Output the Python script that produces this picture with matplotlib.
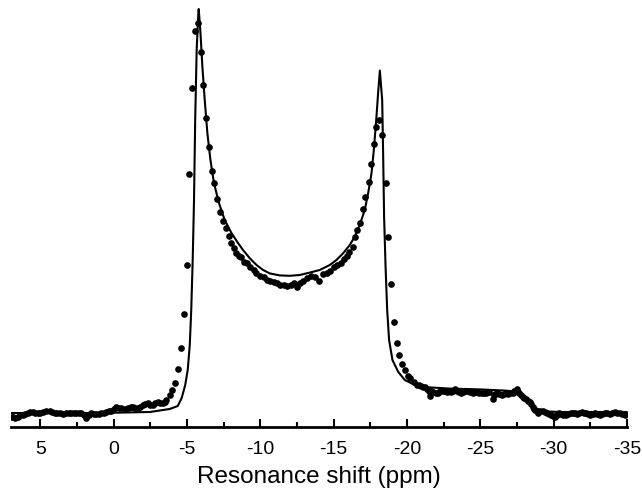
import matplotlib
matplotlib.use("Agg")
import matplotlib.pyplot as plt
from matplotlib.ticker import MultipleLocator

plt.rcParams['font.family'] = ['Liberation Sans', 'DejaVu Sans']
plt.rcParams['axes.unicode_minus'] = False

# measured spectrum (dots): shift in ppm, intensity in arbitrary units
# left baseline
shift_base_l = [6.95, 6.87, 6.70, 6.53, 6.36, 6.19, 6.02, 5.85, 5.68, 5.51, 5.33, 5.16,
                4.99, 4.82, 4.60, 4.37, 4.20, 4.03, 3.85, 3.68, 3.45, 3.23, 3.06, 2.89,
                2.71, 2.54, 2.37, 2.20, 2.03, 1.86, 1.69, 1.52, 1.35, 1.18, 1.01, 0.84,
                0.67, 0.50, 0.33, 0.16, -0.01, -0.18, -0.35, -0.53, -0.75, -0.98, -1.15,
                -1.32, -1.49, -1.66, -1.83, -2.00, -2.17, -2.34, -2.51, -2.68, -2.85,
                -3.02, -3.19, -3.36, -3.48]
int_base_l = [-1.0, -1.1, -1.3, -0.9, -0.6, -0.5, -0.3, -0.1, 0.2, 0.3, 0.0, -0.1,
              0.0, 0.2, 0.4, 0.6, 0.3, 0.1, 0.0, 0.1, -0.2, -0.1, 0.0, 0.1,
              0.0, -0.1, 0.0, -0.1, -0.6, -1.3, -0.5, -0.1, -0.2, -0.3, -0.2, -0.1,
              0.1, 0.3, 0.4, 0.6, 1.1, 1.6, 1.3, 1.2, 0.9, 1.2, 1.5,
              1.6, 1.3, 1.2, 1.6, 2.0, 2.3, 2.4, 2.1, 2.0, 2.5,
              2.8, 2.5, 2.4, 2.8]

# the two horns and the valley between them
shift_horns = [-3.60, -3.82, -4.00, -4.16, -4.39, -4.62, -4.80, -4.98, -5.16, -5.37,
               -5.57, -5.75, -5.94, -6.12, -6.30, -6.50, -6.71, -6.87, -7.08, -7.25,
               -7.46, -7.64, -7.85, -8.03, -8.19, -8.37, -8.53, -8.66, -8.87, -9.09,
               -9.33, -9.55, -9.74, -10.01, -10.23, -10.46, -10.69, -10.92, -11.14,
               -11.37, -11.60, -11.82, -12.06, -12.28, -12.47, -12.69, -12.92, -13.19,
               -13.49, -13.71, -14.01, -14.28, -14.55, -14.78, -15.01, -15.24, -15.47,
               -15.69, -15.88, -16.05, -16.29, -16.44, -16.56, -16.78, -16.97, -17.15,
               -17.38, -17.53, -17.74, -17.92, -18.10, -18.33, -18.54, -18.71, -18.90,
               -19.10, -19.29, -19.47, -19.67, -19.85, -20.04, -20.24, -20.47, -20.69]
int_horns = [3.25, 4.5, 5.75, 7.6, 10.9, 16.2, 24.75, 37.0, 59.75, 81.25,
             95.5, 97.5, 90.25, 82.0, 73.75, 66.5, 60.5, 57.5, 53.5, 50.25,
             48.0, 46.25, 44.25, 42.5, 41.25, 40.0, 39.25, 39.0, 37.75, 37.5,
             36.5, 35.75, 35.1, 34.25, 33.9, 33.25, 33.0, 32.8, 32.4,
             32.0, 32.0, 31.8, 32.1, 32.4, 31.6, 32.4, 33.1, 33.7,
             34.25, 33.9, 33.1, 34.75, 34.9, 35.6, 36.4, 37.0, 37.6,
             38.4, 39.25, 40.3, 41.6, 44.1, 45.75, 47.4, 50.9, 54.1,
             57.8, 62.2, 67.25, 71.4, 73.25, 69.5, 57.6, 43.9, 32.2,
             22.8, 17.4, 14.4, 12.25, 10.75, 9.25, 8.7, 7.8, 7.0]

# shoulder plateau and right baseline
shift_base_r = [-20.81, -20.93, -21.07, -21.22, -21.36, -21.51, -21.56, -21.67, -21.78,
                -21.95, -22.13, -22.28, -22.43, -22.56, -22.70, -22.84, -22.97, -23.12,
                -23.27, -23.41, -23.56, -23.70, -23.83, -24.00, -24.17, -24.32, -24.47,
                -24.61, -24.75, -24.92, -25.09, -25.23, -25.38, -25.50, -25.61, -25.84,
                -25.92, -25.99, -26.14, -26.29, -26.45, -26.61, -26.75, -26.90, -27.05,
                -27.20, -27.33, -27.47, -27.56, -27.65, -27.77, -27.88, -28.00, -28.11,
                -28.25, -28.38, -28.47, -28.57, -28.65, -28.72, -28.84, -28.95, -29.10,
                -29.25, -29.38, -29.52, -29.65, -29.79, -29.94, -30.09, -30.23, -30.38,
                -30.52, -30.66, -30.83, -31.00, -31.15, -31.30, -31.43, -31.57, -31.74,
                -31.91, -32.05, -32.20, -32.34, -32.48, -32.65, -32.82, -32.99, -33.16,
                -33.33, -33.50, -33.67, -33.84, -34.01, -34.18, -34.35, -34.52, -34.69,
                -34.86, -34.95]
int_base_r = [6.9, 6.75, 6.5, 6.4, 6.0, 5.6, 4.25, 5.4, 5.3,
              5.0, 5.1, 5.4, 5.6, 5.5, 5.3, 5.4, 5.3, 5.6,
              5.9, 5.5, 5.3, 5.0, 5.3, 5.5, 5.6, 5.3, 5.1,
              5.2, 5.3, 5.0, 4.9, 5.0, 5.1, 5.2, 5.3, 3.4,
              4.6, 4.75, 4.9, 4.75, 4.6, 4.75, 4.9, 4.75, 4.9,
              5.1, 5.5, 5.9, 5.3, 4.9, 4.5, 4.1, 3.8, 3.4,
              3.1, 2.8, 2.2, 1.6, 1.1, 0.75, 0.4, 0.1, 0.4,
              0.6, 0.2, -0.1, -0.3, -0.5, -0.7, -0.9, -0.5, -0.1,
              -0.3, -0.5, -0.4, -0.25, -0.1, 0.1, -0.1, -0.25, 0.0,
              0.3, 0.1, -0.1, -0.3, -0.5, -0.3, -0.1, -0.3, -0.5,
              -0.2, 0.1, -0.1, -0.25, 0.0, 0.3, 0.1, -0.1, -0.3,
              -0.5, -0.3]

# simulated lineshape (solid line)
shift_fit = [7.0, 0.96, -2.46, -3.82, -4.37, -4.64, -4.88, -5.05, -5.19, -5.29, -5.39,
             -5.48, -5.56, -5.66, -5.77, -5.80, -5.92, -6.05, -6.21, -6.39, -6.60,
             -6.84, -7.18, -7.57, -8.03, -8.48, -8.82, -9.28, -9.74, -10.19, -10.64,
             -11.33, -12.01, -12.69, -13.37, -14.05, -14.74, -15.19, -15.64, -16.10,
             -16.44, -16.78, -17.12, -17.35, -17.58, -17.74, -17.92, -18.03, -18.15,
             -18.31, -18.37, -18.44, -18.54, -18.65, -18.78, -19.01, -19.40, -19.85,
             -20.54, -21.56, -22.92, -24.97, -26.68, -27.36, -27.84, -28.38, -28.86,
             -29.41, -30.43, -35.0]
int_fit = [0.0, 0.0, 0.25, 1.0, 1.75, 3.75, 7.0, 10.75, 17.0, 25.75, 38.25,
           53.25, 73.25, 90.75, 99.5, 101.0, 95.0, 86.6, 78.25, 70.0, 63.25,
           57.5, 52.5, 48.25, 45.0, 42.5, 40.75, 38.7, 37.0, 35.75, 34.9,
           34.4, 34.3, 34.5, 35.1, 35.75, 37.0, 38.25, 39.9, 42.0,
           44.1, 47.0, 50.75, 54.9, 59.9, 65.75, 74.1, 79.9, 85.6,
           78.25, 65.75, 49.1, 36.6, 25.75, 18.25, 13.25, 10.3, 8.25,
           7.0, 6.4, 6.1, 5.9, 5.6, 5.4, 4.5, 2.75, 1.0,
           0.4, 0.25, 0.25]

shift_exp = shift_base_l + shift_horns + shift_base_r
int_exp = int_base_l + int_horns + int_base_r

fig = plt.figure(figsize=(6.42, 4.88), dpi=100)
ax = fig.add_axes([0.0171, 0.125, 0.9595, 0.875])

ax.plot(shift_fit, int_fit, color='black', lw=1.5, zorder=3)
ax.plot(shift_exp, int_exp, 'o', color='black', ms=4.8, mew=0, zorder=2)

ax.set_xlim(7, -35)
ax.set_ylim(-3.5, 103.25)

for s in ['top', 'left', 'right']:
    ax.spines[s].set_visible(False)
ax.spines['bottom'].set_linewidth(2)
ax.set_yticks([])

ax.xaxis.set_major_locator(MultipleLocator(5))
ax.xaxis.set_minor_locator(MultipleLocator(2.5))
ax.tick_params(axis='x', which='major', direction='in', length=6, width=1.5,
               labelsize=14, pad=10)
ax.tick_params(axis='x', which='minor', direction='in', length=3.5, width=1.5)
ax.set_xlabel('Resonance shift (ppm)', fontsize=17.5, labelpad=6)

fig.savefig('out.png', dpi=100)
